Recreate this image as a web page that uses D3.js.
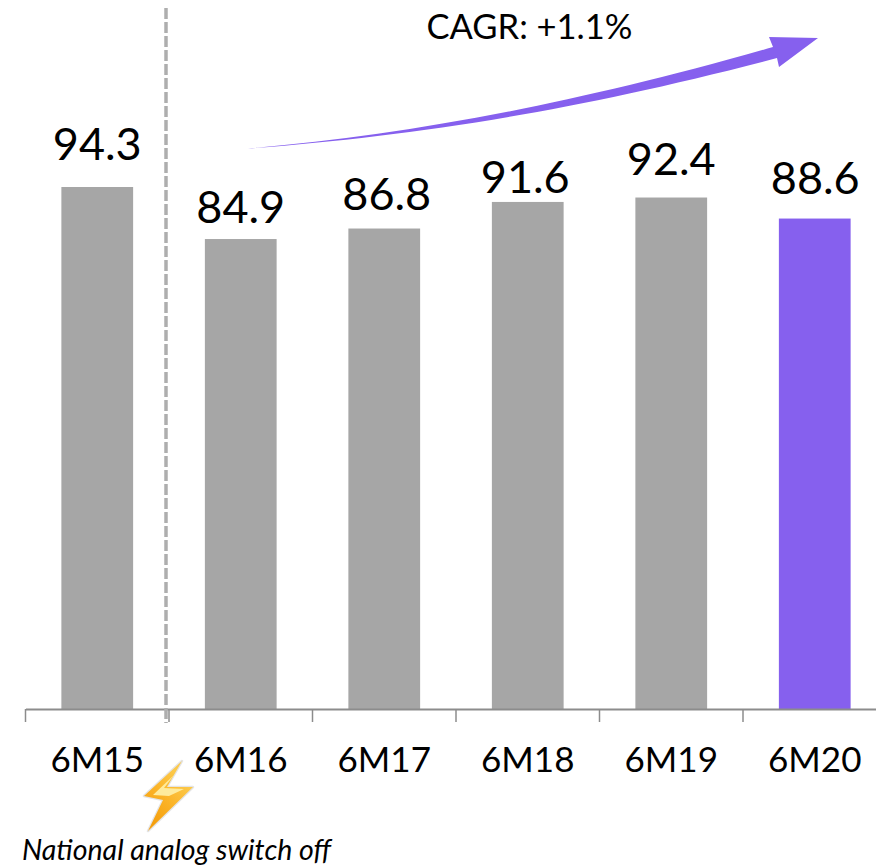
<!DOCTYPE html>
<html>
<head>
<meta charset="utf-8">
<script src="https://cdn.jsdelivr.net/npm/d3@7"></script>
<style>
  html, body { margin: 0; padding: 0; background: #fff; overflow: hidden; }
  svg { display: block; }
  text { font-family: Lato, "Open Sans", sans-serif; fill: #000; }
</style>
</head>
<body>
<script>
var periods = ['6M15', '6M16', '6M17', '6M18', '6M19', '6M20'];
var values = [94.3, 84.9, 86.8, 91.6, 92.4, 88.6];
var cagrLabel = 'CAGR: +1.1%';
var switchOffLabel = 'National analog switch off';

var width = 876;
var height = 868;
var baseline = 709;
var grey = '#a6a6a6';
var purple = '#8660ee';

// labels were placed by hand, each has its own gap above the bar and a small sideways nudge
var labelLift = [27, 16, 18.5, 9, 22.5, 25];
var labelNudge = [0, 0, 2.5, -2.5, 0, 0.5];

var svg = d3.select('body').append('svg')
  .attr('width', width)
  .attr('height', height);

// scales
var xScale = d3.scaleBand()
  .domain(periods)
  .range([25.5, 886.5])
  .paddingInner(0.5)
  .paddingOuter(0.25);
var yScale = d3.scaleLinear()
  .domain([0, 94.3])
  .range([baseline, 187]);

// bars
svg.selectAll('rect.bar')
  .data(values)
  .enter().append('rect')
  .attr('class', 'bar')
  .attr('x', (d, i) => xScale(periods[i]))
  .attr('y', d => yScale(d))
  .attr('width', xScale.bandwidth())
  .attr('height', d => baseline - yScale(d))
  .attr('fill', (d, i) => i === values.length - 1 ? purple : grey);

svg.selectAll('text.value')
  .data(values)
  .enter().append('text')
  .attr('class', 'value')
  .attr('x', (d, i) => xScale(periods[i]) + xScale.bandwidth() / 2 + labelNudge[i])
  .attr('y', (d, i) => yScale(d) - labelLift[i])
  .attr('text-anchor', 'middle')
  .style('font-size', '45px')
  .text(d => d.toFixed(1));

// category axis, ticks fall between the bands
var axis = svg.append('g')
  .attr('transform', 'translate(0,' + baseline + ')')
  .call(d3.axisBottom(xScale).tickSize(0).tickPadding(38.5));
axis.select('.domain').attr('stroke', '#8c8c8c').attr('stroke-width', 2);
axis.selectAll('text')
  .style('font-size', '35px')
  .attr('fill', '#000');

var edges = periods.map((p, i) => 25.5 + i * xScale.step()).concat([25.5 + 6 * xScale.step()]);
axis.selectAll('line.edge')
  .data(edges)
  .enter().append('line')
  .attr('class', 'edge')
  .attr('x1', d => d)
  .attr('x2', d => d)
  .attr('y1', 0)
  .attr('y2', 13)
  .attr('stroke', '#8c8c8c')
  .attr('stroke-width', 1.5);

// dashed divider before the switch off
svg.append('line')
  .attr('x1', 166)
  .attr('x2', 166)
  .attr('y1', 8)
  .attr('y2', 723)
  .attr('stroke', '#aeaeae')
  .attr('stroke-width', 3.5)
  .attr('stroke-dasharray', '11 3');

// tapered growth arrow
var arrow = d3.path();
arrow.moveTo(248, 148.5);
arrow.bezierCurveTo(400, 135, 560, 108, 773, 47);
arrow.lineTo(769, 37);
arrow.lineTo(818, 38);
arrow.lineTo(779, 67);
arrow.lineTo(777, 58);
arrow.bezierCurveTo(560, 115, 400, 137, 248, 148.5);
arrow.closePath();
svg.append('path')
  .attr('d', arrow.toString())
  .attr('fill', purple);

svg.append('text')
  .attr('x', 529.5)
  .attr('y', 38.5)
  .attr('text-anchor', 'middle')
  .style('font-size', '34.5px')
  .text(cagrLabel);

// lightning bolt
var boltFill = svg.append('defs').append('linearGradient')
  .attr('id', 'bolt')
  .attr('x1', 0.2).attr('y1', 0.9)
  .attr('x2', 0.7).attr('y2', 0.2);
boltFill.append('stop').attr('offset', 0).attr('stop-color', '#f59f0d');
boltFill.append('stop').attr('offset', 0.55).attr('stop-color', '#fbb52a');
boltFill.append('stop').attr('offset', 1).attr('stop-color', '#fcc94a');

var boltPoints = [[182, 761], [144, 796], [163, 800], [148, 831], [193, 787], [167, 787]];
svg.append('polygon')
  .attr('points', boltPoints.join(' '))
  .attr('fill', 'url(#bolt)')
  .attr('stroke', '#e4e4e4')
  .attr('stroke-width', 2.5)
  .attr('stroke-linejoin', 'round')
  .style('paint-order', 'stroke');

var boltGlow = [[174, 775], [153, 795], [169, 796], [184, 789], [164, 788]];
svg.append('polygon')
  .attr('points', boltGlow.join(' '))
  .attr('fill', '#feeb9c');

svg.append('text')
  .attr('x', 22)
  .attr('y', 860)
  .style('font-size', '28.5px')
  .style('font-style', 'italic')
  .text(switchOffLabel);
</script>
</body>
</html>
